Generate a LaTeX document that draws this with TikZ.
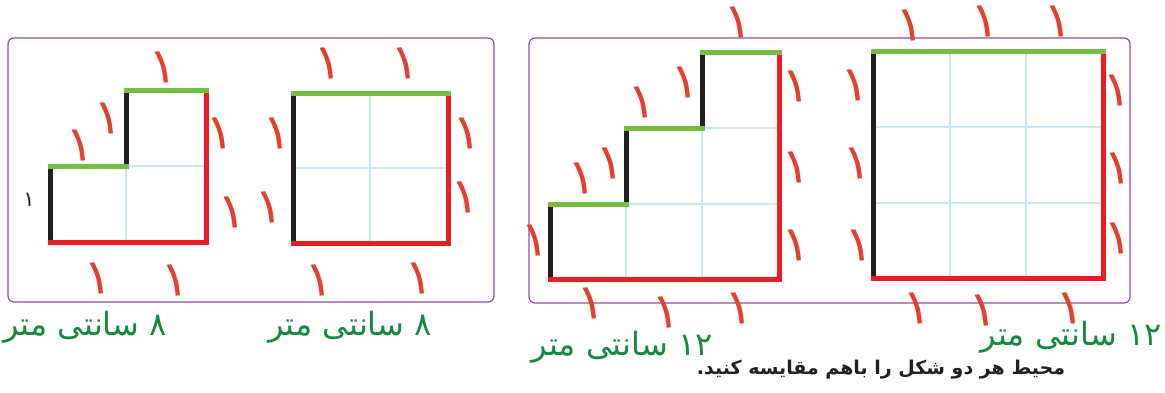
\documentclass[tikz,border=0pt]{standalone}
\usepackage{fontspec}
\newfontfamily\arabicfont[Script=Arabic]{DejaVu Sans}
\TeXXeTstate=1
\definecolor{panelpurple}{HTML}{8E4FA8}
\definecolor{gridblue}{HTML}{C9E8F6}
\definecolor{edgered}{HTML}{ED1C24}
\definecolor{edgegreen}{HTML}{76BE43}
\definecolor{edgeblack}{HTML}{231F20}
\definecolor{markred}{HTML}{E5402C}
\definecolor{textgreen}{HTML}{138A3E}

\begin{document}
\begin{tikzpicture}[x=1pt,y=-1pt,
  panel/.style={draw=panelpurple, line width=1.2pt, rounded corners=6pt},
  gridline/.style={draw=gridblue, line width=2.5pt},
  redside/.style={draw=edgered, line width=5pt, line cap=rect},
  greenside/.style={draw=edgegreen, line width=5pt, line cap=rect},
  blackside/.style={draw=edgeblack, line width=5pt},
  unitmark/.style={text=markred, font=\arabicfont\fontsize{50}{50}\selectfont, inner sep=0pt, rotate=6},
  lengthlabel/.style={text=textgreen, font=\arabicfont\fontsize{32}{32}\selectfont, inner sep=0pt}]
\useasboundingbox (0,0) rectangle (1165,392);

% frames
\draw[panel] (8,38) rectangle (494,302);
\draw[panel] (529,38) rectangle (1130,303);

% L shape
\draw[gridline] (126,166) -- (126,242);
\draw[gridline] (126,166) -- (206,166);
\draw[blackside] (50,166) -- (50,242);
\draw[blackside] (126,90) -- (126,166);
\draw[redside] (206,90) -- (206,242) -- (50,242);
\draw[greenside] (50,166) -- (126,166);
\draw[greenside] (126,90) -- (206,90);

% 2x2 square
\draw[gridline] (370,93) -- (370,243);
\draw[gridline] (293,168) -- (448,168);
\draw[blackside] (293,93) -- (293,243);
\draw[redside] (448,93) -- (448,243) -- (293,243);
\draw[greenside] (293,93) -- (448,93);

% staircase
\draw[gridline] (626,204) -- (626,279);
\draw[gridline] (702,128) -- (702,279);
\draw[gridline] (626,204) -- (779,204);
\draw[gridline] (702,128) -- (779,128);
\draw[blackside] (550,204) -- (550,279);
\draw[blackside] (626,128) -- (626,204);
\draw[blackside] (702,52) -- (702,128);
\draw[redside] (779,52) -- (779,279) -- (550,279);
\draw[greenside] (550,204) -- (626,204);
\draw[greenside] (626,128) -- (702,128);
\draw[greenside] (702,52) -- (779,52);

% 3x3 square
\draw[gridline] (950,51) -- (950,278);
\draw[gridline] (1026,51) -- (1026,278);
\draw[gridline] (873,127) -- (1103,127);
\draw[gridline] (873,203) -- (1103,203);
\draw[blackside] (873,51) -- (873,278);
\draw[redside] (1103,51) -- (1103,278) -- (873,278);
\draw[greenside] (873,51) -- (1103,51);

% unit marks, L shape
\node (la) [unitmark] at (163,67) {۱};
\node (lb) [unitmark] at (80,145) {۱};
\node (lc) [unitmark] at (108,118) {۱};
\node (ld) [unitmark] at (220,133) {۱};
\node (le) [unitmark] at (232,212) {۱};
\node (lf) [unitmark] at (98,278) {۱};
\node (lg) [unitmark] at (175,280) {۱};
\node (lh) [text=edgeblack, font=\arabicfont\fontsize{21}{21}\selectfont, inner sep=0pt] at (29,200) {۱};

% unit marks, 2x2 square
\node (sa) [unitmark] at (328,63) {۱};
\node (sb) [unitmark] at (405,63) {۱};
\node (sc) [unitmark] at (277,133) {۱};
\node (sd) [unitmark] at (269,207) {۱};
\node (se) [unitmark] at (467,133) {۱};
\node (sf) [unitmark] at (465,197) {۱};
\node (sg) [unitmark] at (319,280) {۱};
\node (sh) [unitmark] at (419,278) {۱};

% unit marks, staircase
\node (ta) [unitmark] at (738,22) {۱};
\node (tb) [unitmark] at (535,240) {۱};
\node (tc) [unitmark] at (582,178) {۱};
\node (td) [unitmark] at (610,163) {۱};
\node (te) [unitmark] at (642,102) {۱};
\node (tf) [unitmark] at (685,82) {۱};
\node (tg) [unitmark] at (796,86) {۱};
\node (th) [unitmark] at (796,167) {۱};
\node (ti) [unitmark] at (796,245) {۱};
\node (tj) [unitmark] at (591,303) {۱};
\node (tk) [unitmark] at (666,312) {۱};
\node (tl) [unitmark] at (739,308) {۱};

% unit marks, 3x3 square
\node (qa) [unitmark] at (910,25) {۱};
\node (qb) [unitmark] at (985,21) {۱};
\node (qc) [unitmark] at (1058,21) {۱};
\node (qd) [unitmark] at (855,85) {۱};
\node (qe) [unitmark] at (857,163) {۱};
\node (qf) [unitmark] at (859,245) {۱};
\node (qg) [unitmark] at (1117,90) {۱};
\node (qh) [unitmark] at (1118,168) {۱};
\node (qi) [unitmark] at (1118,238) {۱};
\node (qj) [unitmark] at (917,308) {۱};
\node (qk) [unitmark] at (983,310) {۱};
\node (ql) [unitmark] at (1070,308) {۱};

% perimeters
\node (lper) [lengthlabel] at (85,327) {\beginR ۸ سانتی متر\endR};
\node (sper) [lengthlabel] at (350,327) {\beginR ۸ سانتی متر\endR};
\node (tper) [lengthlabel] at (622,347) {\beginR\beginL ۱۲\endL{} سانتی متر\endR};
\node (qper) [lengthlabel] at (1071,337) {\beginR\beginL ۱۲\endL{} سانتی متر\endR};

\node (task) [text=edgeblack, font=\arabicfont\bfseries\fontsize{19}{19}\selectfont, inner sep=0pt] at (881,370) {\beginR محیط هر دو شکل را باهم مقایسه کنید.\endR};
\end{tikzpicture}
\end{document}
